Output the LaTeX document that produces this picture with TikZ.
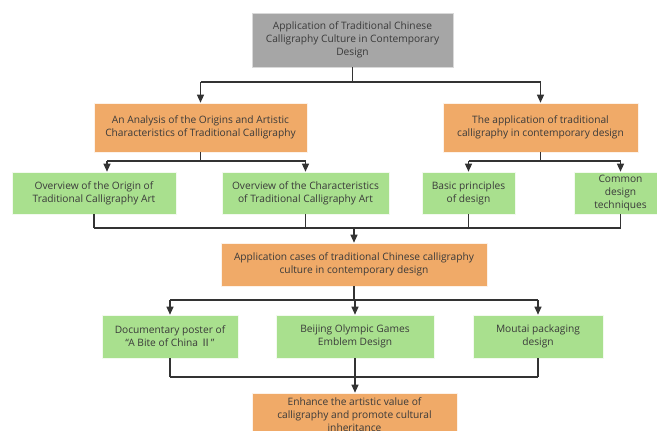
\documentclass[tikz,border=0pt]{standalone}
\usepackage{fontspec}
\setmainfont{Open Sans}
\newfontfamily\cjkf{Noto Sans CJK SC}
\usetikzlibrary{arrows.meta}
\definecolor{boxgray}{HTML}{A6A6A6}
\definecolor{boxorange}{HTML}{F0AA68}
\definecolor{boxgreen}{HTML}{A9E08E}
\definecolor{txt}{HTML}{3A3A3A}
\definecolor{ln}{HTML}{333333}
\tikzset{
  box/.style={draw=white!80!black, line width=0.6pt, align=center, text=txt,
    font=\fontsize{10.2}{13}\selectfont, inner sep=0pt, minimum height=42pt},
  gbox/.style={box, fill=boxgray, draw=white!85!black},
  obox/.style={box, fill=boxorange, draw=white!85!boxorange},
  grbox/.style={box, fill=boxgreen, draw=white!85!boxgreen},
  conn/.style={draw=ln, line width=1.2pt},
  arr/.style={conn, -{Triangle[length=8pt,width=7pt]}}
}
\begin{document}
\begin{tikzpicture}[x=1pt,y=-1pt]
\useasboundingbox (0,0) rectangle (657,431);
\begin{scope}
\clip (0,0) rectangle (657,431);
\node[gbox, minimum width=201pt, minimum height=54pt] (top) at (352.5,40) {Application of Traditional Chinese\\Calligraphy Culture in Contemporary\\Design};
\node[obox, minimum width=213pt, minimum height=49pt] (o1) at (200.5,127.5) {An Analysis of the Origins and Artistic\\Characteristics of Traditional Calligraphy};
\node[obox, minimum width=195pt, minimum height=49pt] (o2) at (540.5,127.5) {The application of traditional\\calligraphy in contemporary design};
\node[grbox, minimum width=164pt] (g1) at (94,193) {Overview of the Origin of\\Traditional Calligraphy Art};
\node[grbox, minimum width=167pt] (g2) at (305.5,193) {Overview of the Characteristics\\of Traditional Calligraphy Art};
\node[grbox, minimum width=93pt] (g3) at (468.5,193) {Basic principles\\of design};
\node[grbox, minimum width=93pt] (g4) at (620.5,193) {Common\\design\\techniques};
\node[obox, minimum width=266pt, minimum height=43pt] (c) at (354,264.5) {Application cases of traditional Chinese calligraphy\\culture in contemporary design};
\node[grbox, minimum width=136pt, minimum height=43pt] (g5) at (170,336.5) {Documentary poster of\\“A Bite of China {\cjkf Ⅱ}”};
\node[grbox, minimum width=158pt, minimum height=43pt] (g6) at (355,336.5) {Beijing Olympic Games\\Emblem Design};
\node[grbox, minimum width=130pt, minimum height=43pt] (g7) at (538,336.5) {Moutai packaging\\design};
\node[obox, minimum width=205pt, minimum height=43pt] (f) at (354.5,414.5) {Enhance the artistic value of\\calligraphy and promote cultural\\inheritance};
\end{scope}
% connectors
\coordinate (j1) at (0,82);
\coordinate (j2) at (0,161);
\coordinate (j3) at (0,228);
\coordinate (j4) at (0,300);
\coordinate (j5) at (0,377);
\draw[conn] (top.south) -- (top.south |- j1);
\draw[conn] (o1.north |- j1) -- (o2.north |- j1);
\draw[arr] (o1.north |- j1) -- (o1.north);
\draw[arr] (o2.north |- j1) -- (o2.north);
\coordinate (g1a) at ([xshift=13pt]g1.north);
\draw[conn] (o1.south) -- (o1.south |- j2);
\draw[conn] (g1a |- j2) -- (g2.north |- j2);
\draw[arr] (g1a |- j2) -- (g1a);
\draw[arr] (g2.north |- j2) -- (g2.north);
\draw[conn] (o2.south) -- (o2.south |- j2);
\draw[conn] (g3.north |- j2) -- (g4.north |- j2);
\draw[arr] (g3.north |- j2) -- (g3.north);
\draw[arr] (g4.north |- j2) -- (g4.north);
\draw[conn] (g1.south) -- (g1.south |- j3);
\draw[conn] (g2.south) -- (g2.south |- j3);
\draw[conn] (g3.south) -- (g3.south |- j3);
\draw[conn] (g4.south) -- (g4.south |- j3);
\draw[conn] (g1.south |- j3) -- (g4.south |- j3);
\draw[arr] (c.north |- j3) -- (c.north);
\draw[conn] (c.south) -- (c.south |- j4);
\draw[conn] (g5.north |- j4) -- (g7.north |- j4);
\draw[arr] (g5.north |- j4) -- (g5.north);
\draw[arr] (g6.north |- j4) -- (g6.north);
\draw[arr] (g7.north |- j4) -- (g7.north);
\draw[conn] (g5.south) -- (g5.south |- j5);
\draw[conn] (g6.south) -- (g6.south |- j5);
\draw[conn] (g7.south) -- (g7.south |- j5);
\draw[conn] (g5.south |- j5) -- (g7.south |- j5);
\draw[arr] (g6.south |- j5) -- (g6.south |- f.north);
\end{tikzpicture}
\end{document}
